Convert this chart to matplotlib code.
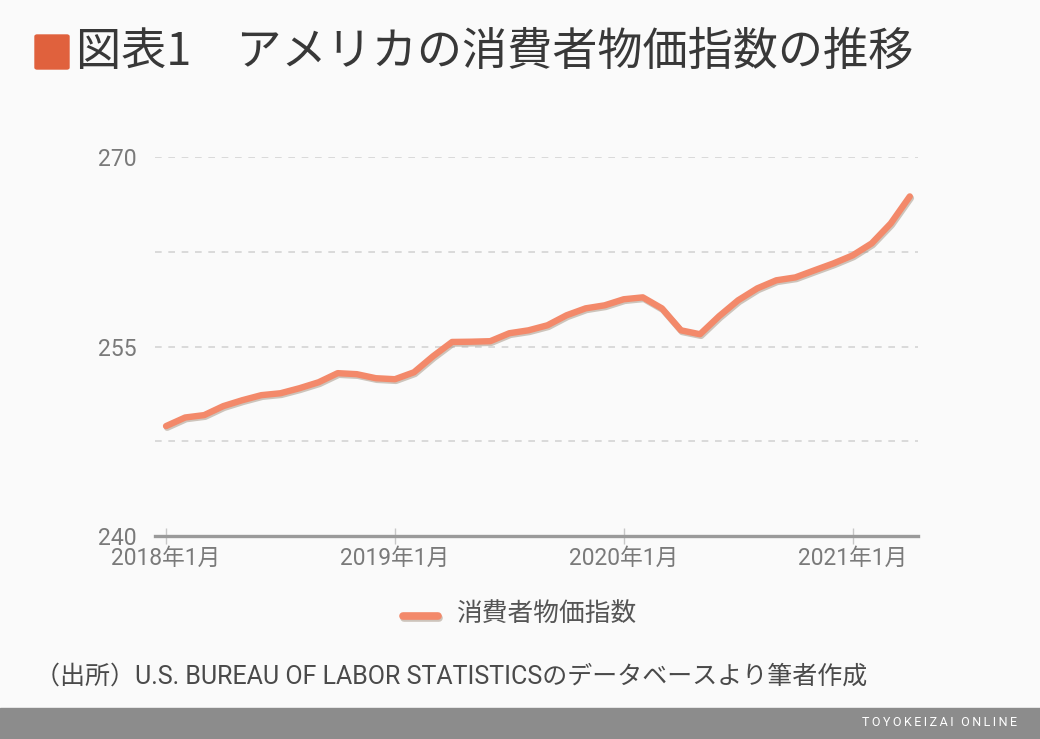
import matplotlib.pyplot as plt
import matplotlib.patheffects as pe
from matplotlib.patches import FancyBboxPatch, Rectangle

plt.rcParams['font.family'] = ['Roboto', 'Noto Sans CJK JP', 'DejaVu Sans']

# 消費者物価指数（2018年1月〜2021年4月、月次）
months = list(range(40))
cpi = [248.70, 249.38, 249.57, 250.28, 250.75, 251.15, 251.30, 251.70, 252.17, 252.89,
       252.81, 252.49, 252.41, 252.96, 254.23, 255.36, 255.38, 255.42, 256.05, 256.28,
       256.68, 257.47, 258.02, 258.26, 258.74, 258.89, 258.02, 256.28, 255.97, 257.40,
       258.66, 259.60, 260.24, 260.47, 261.03, 261.58, 262.21, 263.16, 264.74, 266.88]
tick_pos = [0, 12, 24, 36]
tick_labels = ['2018年1月', '2019年1月', '2020年1月', '2021年1月']
y_ticks = [240, 255, 270]
grid_y = [247.5, 255, 262.5, 270]

bg = '#fafafa'
line_color = '#f3896a'

fig = plt.figure(figsize=(10.4, 7.39), dpi=100, facecolor=bg)
ax = fig.add_axes([155 / 1040, 1 - 536 / 739, 763 / 1040, 379 / 739])
ax.set_facecolor(bg)

for g in grid_y:
    ax.axhline(g, color='#d4d4d4', lw=1.2, ls=(0, (4, 4)), zorder=1)

ax.plot(months, cpi, color=line_color, lw=4.6, solid_capstyle='round',
        solid_joinstyle='round', zorder=3, clip_on=False,
        path_effects=[pe.SimpleLineShadow(offset=(0.8, -1.2), shadow_color='#a89888', alpha=0.55),
                      pe.Normal()])

ax.set_xlim(-0.58, 39.43)
ax.set_ylim(240, 270)
for s in ['top', 'right', 'left']:
    ax.spines[s].set_visible(False)
ax.spines['bottom'].set_color('#9a9a9a')
ax.spines['bottom'].set_linewidth(2.4)

ax.set_xticks(tick_pos)
ax.set_xticklabels(tick_labels)
ax.set_yticks(y_ticks)
ax.tick_params(axis='x', direction='inout', length=12, width=1, color='#c8c8c8',
               labelsize=16.4, labelcolor='#7a7a7a', pad=2)
ax.tick_params(axis='y', length=0, labelsize=16.6, labelcolor='#7a7a7a', pad=13)

# タイトル
fig.patches.append(FancyBboxPatch((35 / 1040, 1 - 69 / 739), 34 / 1040, 34 / 739,
                                  boxstyle='round,pad=0,rounding_size=0.002',
                                  transform=fig.transFigure, color='#e0613d'))
fig.text(76 / 1040, 1 - 52 / 739, '図表1　アメリカの消費者物価指数の推移',
         fontsize=32.5, color='#383838', va='center', ha='left',
         family=['Noto Sans CJK JP', 'DejaVu Sans'])

# 凡例
fig.lines.append(plt.Line2D([403 / 1040, 438 / 1040], [1 - 616 / 739, 1 - 616 / 739],
                            transform=fig.transFigure, color=line_color, lw=5.5,
                            solid_capstyle='round',
                            path_effects=[pe.SimpleLineShadow(offset=(0.8, -1.2),
                                                              shadow_color='#a89888', alpha=0.55),
                                          pe.Normal()]))
fig.text(456 / 1040, 1 - 614 / 739, '消費者物価指数', fontsize=18.5, color='#555555',
         va='center', ha='left')

# 出所
fig.text(35 / 1040, 1 - 677 / 739,
         '（出所）U.S. BUREAU OF LABOR STATISTICSのデータベースより筆者作成',
         fontsize=18.0, color='#4a4a4a', va='center', ha='left')

# フッター
fig.patches.append(Rectangle((0, 0), 1, 31 / 739, transform=fig.transFigure,
                             color='#8c8c8c', zorder=0))
fig.text(1017 / 1040, 1 - 723 / 739, 'T O Y O K E I Z A I   O N L I N E'.replace(' ', '\u2009'),
         fontsize=9, color='white', va='center', ha='right',
         family=['Roboto', 'DejaVu Sans'])

fig.savefig('out.png', dpi=100, facecolor=bg)
